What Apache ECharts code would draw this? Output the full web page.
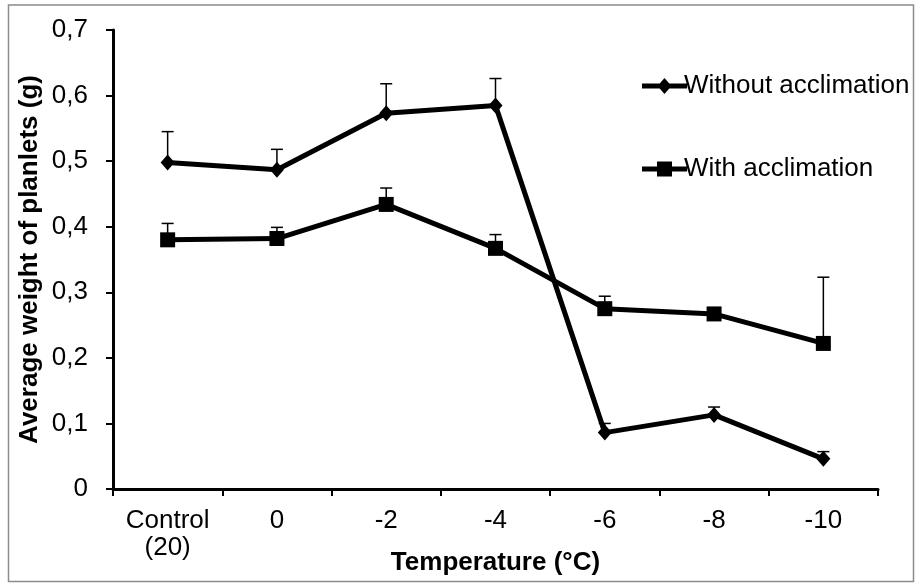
<!DOCTYPE html>
<html>
<head>
<meta charset="utf-8">
<script src="https://cdn.jsdelivr.net/npm/echarts@6/dist/echarts.min.js"></script>
<style>
html,body{margin:0;padding:0;background:#fff;}
#chart{width:915px;height:583px;}
</style>
</head>
<body>
<div id="chart"></div>
<script>
var categories = ['Control\n(20)', '0', '-2', '-4', '-6', '-8', '-10'];
var withoutMean = [0.498, 0.487, 0.573, 0.585, 0.086, 0.113, 0.046];
var withoutErr  = [0.047, 0.031, 0.045, 0.041, 0.014, 0.012, 0.011];
var withMean    = [0.380, 0.382, 0.434, 0.367, 0.275, 0.267, 0.222];
var withErr     = [0.025, 0.017, 0.025, 0.021, 0.019, 0.007, 0.101];
var yTicks = [0, 0.1, 0.2, 0.3, 0.4, 0.5, 0.6, 0.7];

var FONT = '"Liberation Sans", Arial, sans-serif';
var FS = 26;

var ICON_DIAMOND = 'path://M0 5.5L17.69 5.5L22.5 0L27.31 5.5L45 5.5L45 10.5L27.31 10.5L22.5 16L17.69 10.5L0 10.5Z';
var ICON_SQUARE = 'path://M0 5.5L15 5.5L15 0.5L30 0.5L30 5.5L45 5.5L45 10.5L30 10.5L30 15.5L15 15.5L15 10.5L0 10.5Z';

function errData(mean, err) {
  return mean.map(function (m, i) { return [i, m, m + err[i]]; });
}

function renderErr(params, api) {
  var x = api.value(0);
  var lo = api.coord([x, api.value(1)]);
  var hi = api.coord([x, api.value(2)]);
  var half = 6;
  return {
    type: 'group',
    children: [
      { type: 'line', shape: { x1: lo[0], y1: lo[1], x2: hi[0], y2: hi[1] },
        style: { stroke: '#000', lineWidth: 1.5 } },
      { type: 'line', shape: { x1: hi[0] - half, y1: hi[1], x2: hi[0] + half, y2: hi[1] },
        style: { stroke: '#000', lineWidth: 1.5 } }
    ]
  };
}

var chart = echarts.init(document.getElementById('chart'));
chart.setOption({
  backgroundColor: '#fff',
  animation: false,
  graphic: [{
    type: 'rect', shape: { x: 8.5, y: 5, width: 905, height: 576.5 },
    style: { fill: 'none', stroke: '#8c8c8c', lineWidth: 1.5 }, z: -10
  }],
  grid: { left: 113, right: 37, top: 30, bottom: 94, containLabel: false, outerBoundsMode: 'none' },
  legend: {
    orient: 'vertical',
    left: 637, top: 68,
    itemWidth: 45, itemHeight: 16,
    itemGap: 57,
    itemStyle: { color: '#000', borderWidth: 0 },
    textStyle: { fontFamily: FONT, fontSize: FS, color: '#000', padding: [0, 0, 0, -8] },
    data: [
      { name: 'Without acclimation', icon: ICON_DIAMOND },
      { name: 'With acclimation', icon: ICON_SQUARE }
    ]
  },
  xAxis: {
    type: 'category',
    data: categories,
    boundaryGap: true,
    name: 'Temperature (°C)',
    nameLocation: 'middle',
    nameGap: 61,
    nameMoveOverlap: false,
    nameTextStyle: { fontFamily: FONT, fontSize: FS, fontWeight: 'bold', color: '#000' },
    axisLine: { lineStyle: { color: '#000', width: 3 } },
    axisTick: { show: true, length: 7, lineStyle: { color: '#000', width: 2 } },
    axisLabel: { fontFamily: FONT, fontSize: FS, color: '#000', margin: 18, lineHeight: 27 },
    splitLine: { show: false }
  },
  yAxis: {
    type: 'value',
    min: 0, max: 0.7, interval: 0.1,
    name: 'Average weight of planlets (g)',
    nameLocation: 'middle',
    nameGap: 70,
    nameMoveOverlap: false,
    nameTextStyle: { fontFamily: FONT, fontSize: FS, fontWeight: 'bold', color: '#000' },
    axisLine: { show: true, lineStyle: { color: '#000', width: 3 } },
    axisTick: { show: true, length: 7, lineStyle: { color: '#000', width: 2 } },
    axisLabel: {
      fontFamily: FONT, fontSize: FS, color: '#000', margin: 25,
      formatter: function (v) {
        var idx = yTicks.findIndex(function (t) { return Math.abs(t - v) < 1e-9; });
        var t = idx >= 0 ? yTicks[idx] : v;
        return t === 0 ? '0' : t.toFixed(1).replace('.', ',');
      }
    },
    splitLine: { show: false }
  },
  series: [
    {
      type: 'custom', name: 'errWithout', renderItem: renderErr,
      data: errData(withoutMean, withoutErr), z: 1, silent: true,
      encode: { x: 0, y: [1, 2] }
    },
    {
      type: 'custom', name: 'errWith', renderItem: renderErr,
      data: errData(withMean, withErr), z: 1, silent: true,
      encode: { x: 0, y: [1, 2] }
    },
    {
      name: 'Without acclimation', type: 'line', data: withoutMean,
      symbol: 'diamond', symbolSize: [14, 16],
      itemStyle: { color: '#000' },
      lineStyle: { color: '#000', width: 5 }, z: 3
    },
    {
      name: 'With acclimation', type: 'line', data: withMean,
      symbol: 'rect', symbolSize: 15,
      itemStyle: { color: '#000' },
      lineStyle: { color: '#000', width: 5 }, z: 3
    }
  ]
});
</script>
</body>
</html>
